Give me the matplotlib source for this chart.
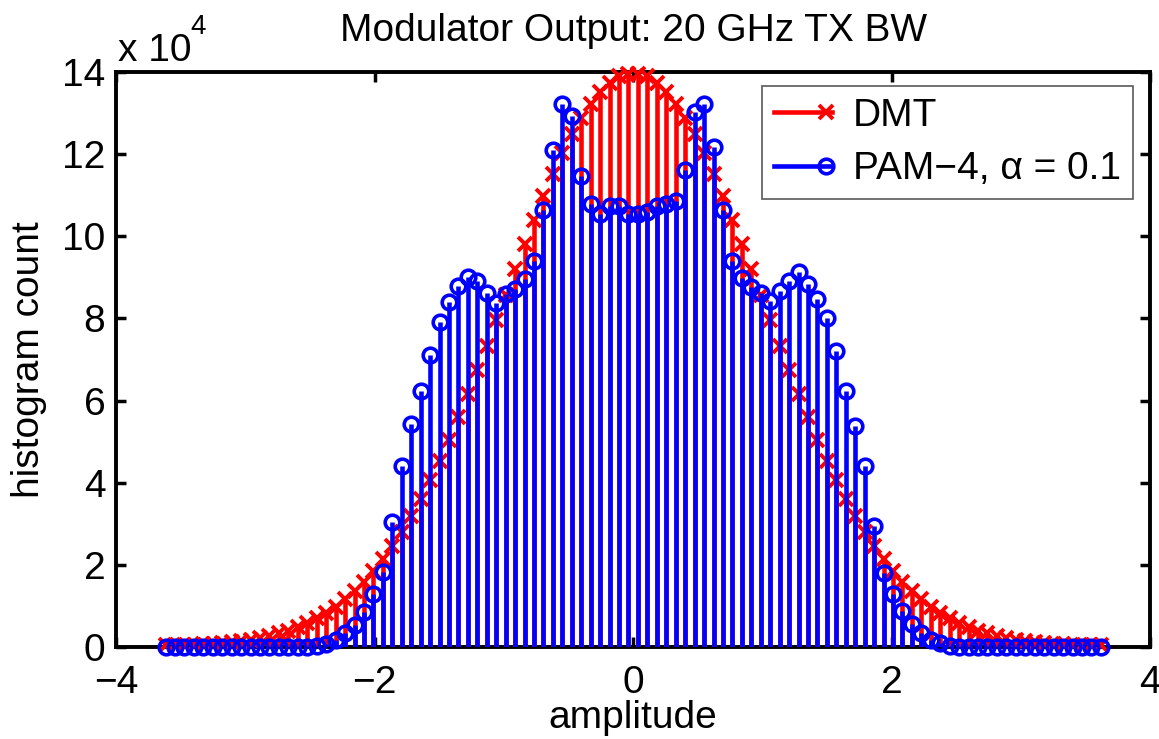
import numpy as np
import matplotlib
matplotlib.use('Agg')
import matplotlib.pyplot as plt
from matplotlib.lines import Line2D
from matplotlib.legend_handler import HandlerLine2D

plt.rcParams['font.family'] = ['Liberation Sans', 'DejaVu Sans']

# ---- data (counts in units of 1e4) ----
amplitude = np.linspace(-3.62, 3.62, 100)   # histogram bin centres

dmt = [0.04, 0.05, 0.05, 0.06, 0.07, 0.08, 0.10, 0.12, 0.14, 0.17,
       0.22, 0.27, 0.33, 0.40, 0.48, 0.58, 0.70, 0.83, 0.98, 1.16,
       1.36, 1.59, 1.85, 2.14, 2.46, 2.80, 3.19, 3.60, 4.06, 4.54,
       5.05, 5.59, 6.16, 6.74, 7.34, 7.97, 8.58, 9.20, 9.81, 10.40,
       10.97, 11.51, 12.02, 12.48, 12.89, 13.23, 13.52, 13.74, 13.89, 13.96,
       13.96, 13.89, 13.74, 13.52, 13.23, 12.89, 12.48, 12.02, 11.51, 10.97,
       10.40, 9.81, 9.20, 8.58, 7.97, 7.34, 6.74, 6.16, 5.59, 5.05,
       4.54, 4.06, 3.60, 3.19, 2.80, 2.46, 2.14, 1.85, 1.59, 1.36,
       1.16, 0.98, 0.83, 0.70, 0.58, 0.48, 0.40, 0.33, 0.27, 0.22,
       0.17, 0.14, 0.12, 0.10, 0.08, 0.07, 0.06, 0.05, 0.05, 0.04]

pam4 = [0, 0, 0, 0, 0, 0, 0, 0, 0, 0,
        0, 0, 0, 0, 0, 0.01, 0.03, 0.08, 0.17, 0.33,
        0.54, 0.86, 1.28, 1.83, 3.04, 4.40, 5.43, 6.23, 7.12, 7.92,
        8.41, 8.80, 9.01, 8.90, 8.62, 8.38, 8.60, 8.71, 8.95, 9.41,
        10.63, 12.10, 13.23, 12.93, 11.47, 10.79, 10.54, 10.74, 10.73, 10.54,
        10.54, 10.58, 10.73, 10.79, 10.85, 11.62, 13.02, 13.21, 12.18, 10.63,
        9.41, 8.99, 8.76, 8.62, 8.43, 8.66, 8.92, 9.13, 8.85, 8.48,
        8.01, 7.21, 6.23, 5.39, 4.40, 2.95, 1.80, 1.30, 0.88, 0.56,
        0.33, 0.17, 0.09, 0.03, 0.01, 0, 0, 0, 0, 0,
        0, 0, 0, 0, 0, 0, 0, 0, 0, 0]

labels = ['DMT', 'PAM\u22124, \u03b1 = 0.1']
xticks = [-4, -2, 0, 2, 4]
yticks = [0, 2, 4, 6, 8, 10, 12, 14]


class EndMarkerHandler(HandlerLine2D):
    def create_artists(self, legend, orig_handle, xdescent, ydescent,
                       width, height, fontsize, trans):
        y = height / 2 - ydescent
        x0, x1 = -xdescent, width - xdescent
        line = Line2D([x0, x1], [y, y])
        line.update_from(orig_handle)
        line.set_marker('None')
        mk = Line2D([x1 - 0.1 * width], [y])
        mk.update_from(orig_handle)
        mk.set_linestyle('None')
        line.set_transform(trans)
        mk.set_transform(trans)
        return [line, mk]


fig = plt.figure(figsize=(11.59, 7.39), dpi=100)
ax = fig.add_axes([0.1005, 0.1245, 0.8917, 0.7781])

m1, s1, b1 = ax.stem(amplitude, dmt, linefmt='-', markerfmt='x')
s1.set_color('red'); s1.set_linewidth(3.3); s1.set_zorder(3)
m1.set_color('red'); m1.set_markersize(9.5); m1.set_markeredgewidth(2.8)
m1.set_zorder(3.1); m1.set_clip_on(False)
b1.set_visible(False)

m2, s2, b2 = ax.stem(amplitude, pam4, linefmt='-', markerfmt='o')
s2.set_color('blue'); s2.set_linewidth(3.3); s2.set_zorder(4)
m2.set_color('blue'); m2.set_markerfacecolor('none'); m2.set_markersize(10.5)
m2.set_markeredgewidth(2.6); m2.set_zorder(4.1); m2.set_clip_on(False)
b2.set_visible(False)

ax.set_xlim(-4, 4)
ax.set_ylim(0, 14)
ax.set_xticks(xticks)
ax.set_yticks(yticks)
ax.tick_params(direction='in', length=7, width=2.5, top=True, right=True,
               labelsize=28)
ax.tick_params(axis='x', pad=13)
ax.tick_params(axis='y', pad=8)
for sp in ax.spines.values():
    sp.set_linewidth(2.8)

ax.set_title('Modulator Output: 20 GHz TX BW', fontsize=28, pad=22)
ax.set_xlabel('amplitude', fontsize=28, labelpad=-1)
ax.set_ylabel('histogram count', fontsize=28, labelpad=11)
ax.annotate('x 10', xy=(0, 1), xycoords='axes fraction',
            xytext=(1, 8.2), textcoords='offset points', fontsize=28,
            ha='left', va='baseline')
ax.annotate('4', xy=(0, 1), xycoords='axes fraction',
            xytext=(53.5, 27), textcoords='offset points', fontsize=20,
            ha='left', va='baseline')

h1 = Line2D([], [], color='red', lw=3.3, marker='x', ms=9.5, mew=2.8)
h2 = Line2D([], [], color='blue', lw=3.3, marker='o', ms=10.5, mew=2.6,
            mfc='none')
leg = ax.legend([h1, h2], labels, loc='upper right',
                bbox_to_anchor=(0.9835, 0.9757), borderaxespad=0,
                fontsize=28, handlelength=1.5, handletextpad=0.55,
                borderpad=0.3, labelspacing=0.45, fancybox=False,
                edgecolor='0.35', framealpha=1,
                handler_map={Line2D: EndMarkerHandler()})
leg.get_frame().set_linewidth(1.2)

fig.savefig('out.png', dpi=100)
